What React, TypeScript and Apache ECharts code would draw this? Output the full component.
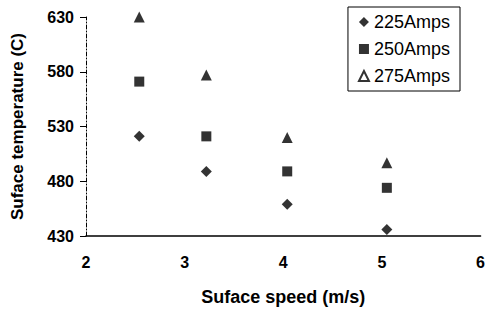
import React, { useEffect, useRef } from "react";
import * as echarts from "echarts";

const speeds = [2.54, 3.22, 4.04, 5.05];
const amps225 = [521, 489, 459, 436];
const amps250 = [571, 521, 489, 474];
const amps275 = [630, 577, 520, 497];
const seriesNames = ["225Amps", "250Amps", "275Amps"];
const yTicks = [430, 480, 530, 580, 630];
const xTicks = [2, 3, 4, 5, 6];

export default function App() {
  const ref = useRef<HTMLDivElement>(null);
  useEffect(() => {
    const chart = echarts.init(ref.current!, null, { renderer: "svg" });
    const font = "Liberation Sans, Arial, sans-serif";
    const mk = (vals: number[]) => speeds.map((s, i) => [s, vals[i]]);
    chart.setOption({
      animation: false,
      backgroundColor: "#fff",
      grid: { left: 86, right: 2, top: 17, bottom: 74 },
      xAxis: {
        type: "value",
        min: xTicks[0],
        max: xTicks[xTicks.length - 1],
        interval: 1,
        name: "Suface speed (m/s)",
        nameLocation: "middle",
        nameGap: 52,
        nameTextStyle: { fontFamily: font, fontWeight: "bold", fontSize: 18, color: "#000" },
        axisLine: { show: true, lineStyle: { color: "#000", width: 1.5 } },
        axisTick: { show: false },
        splitLine: { show: false },
        axisLabel: { margin: 18, fontFamily: font, fontWeight: "bold", fontSize: 16, color: "#000" },
      },
      yAxis: {
        type: "value",
        min: yTicks[0],
        max: yTicks[yTicks.length - 1],
        interval: 50,
        name: "Suface temperature (C)",
        nameLocation: "middle",
        nameGap: 60,
        nameTextStyle: { fontFamily: font, fontWeight: "bold", fontSize: 17, color: "#000" },
        axisLine: { show: true, lineStyle: { color: "#000", width: 1, type: [4, 2, 1, 2] } },
        axisTick: { show: true, length: 6, lineStyle: { color: "#000" } },
        splitLine: { show: false },
        axisLabel: { margin: 12, fontFamily: font, fontWeight: "bold", fontSize: 16, color: "#000" },
      },
      legend: {
        orient: "vertical",
        right: 28,
        top: 7,
        itemWidth: 10,
        itemHeight: 10,
        itemGap: 9,
        padding: [6, 10, 6, 10],
        borderColor: "#000",
        borderWidth: 1,
        textStyle: { fontFamily: font, fontSize: 18, color: "#000" },
        data: [
          { name: seriesNames[0], icon: "diamond" },
          { name: seriesNames[1], icon: "rect" },
          { name: seriesNames[2], icon: "triangle", itemStyle: { color: "#fff", borderColor: "#000", borderWidth: 2 } },
        ],
      },
      series: [
        { name: seriesNames[0], type: "scatter", symbol: "diamond", symbolSize: 11, itemStyle: { color: "#000" }, data: mk(amps225) },
        { name: seriesNames[1], type: "scatter", symbol: "rect", symbolSize: 10, itemStyle: { color: "#000" }, data: mk(amps250) },
        { name: seriesNames[2], type: "scatter", symbol: "triangle", symbolSize: 11, itemStyle: { color: "#000" }, data: mk(amps275) },
      ],
    });
    return () => chart.dispose();
  }, []);
  return <div ref={ref} style={{ width: 488, height: 311, position: "absolute", left: 0, top: 0 }} />;
}
